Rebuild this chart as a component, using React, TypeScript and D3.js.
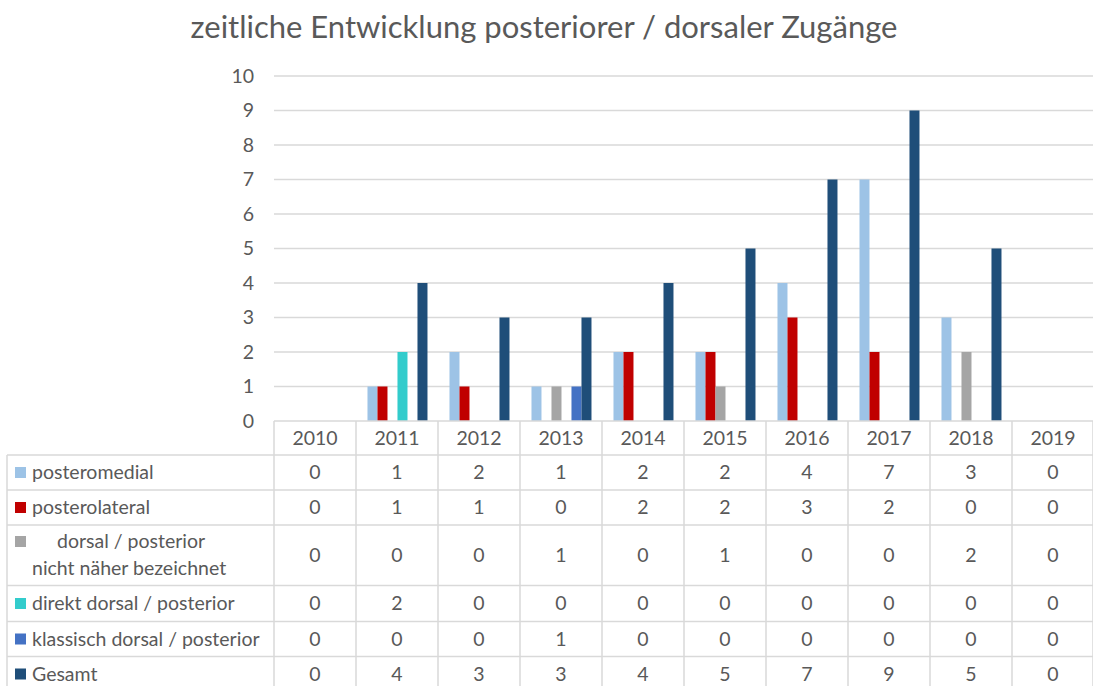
import React from "react";
import * as d3 from "d3";

const title = "zeitliche Entwicklung posteriorer / dorsaler Zugänge";
const years = ["2010", "2011", "2012", "2013", "2014", "2015", "2016", "2017", "2018", "2019"];
const seriesNames = [
  "posteromedial",
  "posterolateral",
  "dorsal / posterior|nicht näher bezeichnet",
  "direkt dorsal / posterior",
  "klassisch dorsal / posterior",
  "Gesamt",
];
const seriesColors = ["#9DC3E6", "#C00000", "#A5A5A5", "#33CCCC", "#4472C4", "#1F4E79"];
const posteromedial = [0, 1, 2, 1, 2, 2, 4, 7, 3, 0];
const posterolateral = [0, 1, 1, 0, 2, 2, 3, 2, 0, 0];
const dorsalNnb = [0, 0, 0, 1, 0, 1, 0, 0, 2, 0];
const direktDorsal = [0, 2, 0, 0, 0, 0, 0, 0, 0, 0];
const klassischDorsal = [0, 0, 0, 1, 0, 0, 0, 0, 0, 0];
const gesamt = [0, 4, 3, 3, 4, 5, 7, 9, 5, 0];
const seriesValues = [posteromedial, posterolateral, dorsalNnb, direktDorsal, klassischDorsal, gesamt];
const yTicks = [0, 1, 2, 3, 4, 5, 6, 7, 8, 9, 10];

const W = 1093;
const H = 686;
const plotLeft = 274;
const plotRight = 1094;
const plotTop = 76;
const plotBottom = 421;
const tableLeft = 7;
const rowHeights = [34, 35, 35, 60.5, 36, 35, 35];
const FONT = "Lato, 'Open Sans', sans-serif";
const TXT = "#595959";
const GRID = "#D9D9D9";
const TBL = "#D9D9D9";
const FS = 19.5;

export default function App() {
  const x = d3.scaleBand<string>().domain(years).range([plotLeft, plotRight]).padding(0);
  const bw = x.bandwidth();
  const inner = d3
    .scaleBand<number>()
    .domain(d3.range(seriesNames.length))
    .range([bw * 0.14, bw * 0.14 + 60]);
  const y = d3.scaleLinear().domain([0, 10]).range([plotBottom, plotTop]);

  const rowTops: number[] = [];
  let acc = plotBottom;
  rowHeights.forEach((h) => {
    rowTops.push(acc);
    acc += h;
  });

  return (
    <svg width={W} height={H} style={{ display: "block", position: "absolute", left: 0, top: 0, background: "#fff" }}>
      <rect x={0} y={0} width={W} height={H} fill="#fff" />
      <text x={544} y={38} textAnchor="middle" fontFamily={FONT} fontSize={31} fill={TXT}>
        {title}
      </text>
      {yTicks.map((t) => (
        <g key={t}>
          {t > 0 && <line x1={plotLeft} x2={plotRight} y1={y(t)} y2={y(t)} stroke={GRID} strokeWidth={1.5} />}
          <text x={254} y={y(t)} dy="0.35em" textAnchor="end" fontFamily={FONT} fontSize={FS} fill={TXT}>
            {t}
          </text>
        </g>
      ))}
      {years.map((yr, i) => (
        <g key={yr}>
          {seriesValues.map((vals, s) =>
            vals[i] > 0 ? (
              <rect
                key={s}
                x={(x(yr) as number) + (inner(s) as number)}
                y={y(vals[i])}
                width={inner.bandwidth()}
                height={y(0) - y(vals[i])}
                fill={seriesColors[s]}
              />
            ) : null
          )}
        </g>
      ))}
      {/* table horizontal lines */}
      <line x1={plotLeft} x2={plotRight} y1={plotBottom} y2={plotBottom} stroke={TBL} strokeWidth={1.5} />
      {rowTops.slice(1).map((ty, k) => (
        <line key={k} x1={tableLeft} x2={plotRight} y1={ty} y2={ty} stroke={TBL} strokeWidth={1.5} />
      ))}
      {/* vertical lines */}
      {years.map((yr) => (
        <line key={yr} x1={x(yr)} x2={x(yr)} y1={plotBottom} y2={H} stroke={TBL} strokeWidth={1.5} />
      ))}
      <line x1={plotRight - 1} x2={plotRight - 1} y1={plotBottom} y2={H} stroke={TBL} strokeWidth={1.5} />
      <line x1={tableLeft} x2={tableLeft} y1={rowTops[1]} y2={H} stroke={TBL} strokeWidth={1.5} />
      {/* header */}
      {years.map((yr) => (
        <text
          key={yr}
          x={(x(yr) as number) + bw / 2}
          y={rowTops[0] + rowHeights[0] / 2}
          dy="0.35em"
          textAnchor="middle"
          fontFamily={FONT}
          fontSize={FS}
          fill={TXT}
        >
          {yr}
        </text>
      ))}
      {seriesNames.map((name, s) => {
        const top = rowTops[s + 1];
        const h = rowHeights[s + 1];
        const cy = top + h / 2;
        const parts = name.split("|");
        return (
          <g key={name}>
            {parts.length === 1 ? (
              <>
                <rect x={15} y={cy - 5.5} width={11} height={11} fill={seriesColors[s]} />
                <text x={32} y={cy} dy="0.35em" fontFamily={FONT} fontSize={FS} fill={TXT}>
                  {name}
                </text>
              </>
            ) : (
              <>
                <rect x={15} y={top + 11} width={11} height={11} fill={seriesColors[s]} />
                <text x={57} y={top + 16} dy="0.35em" fontFamily={FONT} fontSize={FS} fill={TXT}>
                  {parts[0]}
                </text>
                <text x={32} y={top + 43} dy="0.35em" fontFamily={FONT} fontSize={FS} fill={TXT}>
                  {parts[1]}
                </text>
              </>
            )}
            {years.map((yr, i) => (
              <text
                key={yr}
                x={(x(yr) as number) + bw / 2}
                y={cy}
                dy="0.35em"
                textAnchor="middle"
                fontFamily={FONT}
                fontSize={FS}
                fill={TXT}
              >
                {seriesValues[s][i]}
              </text>
            ))}
          </g>
        );
      })}
    </svg>
  );
}
